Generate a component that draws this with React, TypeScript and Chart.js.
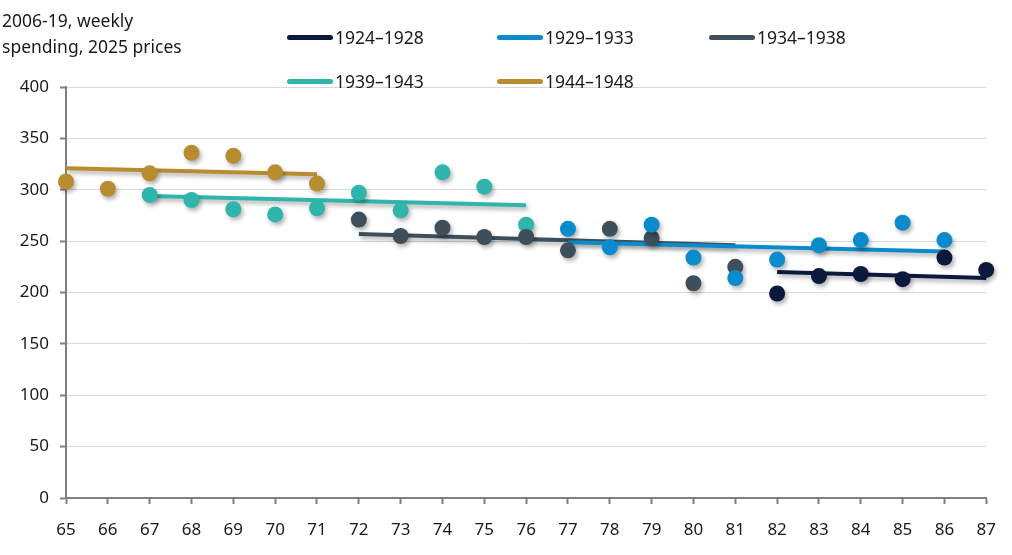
import { useEffect, useRef } from "react";
import { Chart, registerables, Plugin } from "chart.js";

Chart.register(...registerables);

const FONT = "'Noto Sans', 'Open Sans', sans-serif";

const cohorts = ["1924–1928", "1929–1933", "1934–1938", "1939–1943", "1944–1948"];
const colors = ["#0b1a3c", "#0a8bcb", "#3e4f5b", "#2fb5ab", "#b78d2f"];

// ages and weekly spending per cohort
const ages1924 = [82, 83, 84, 85, 86, 87];
const spend1924 = [199, 216, 218, 213, 234, 222];
const ages1929 = [77, 78, 79, 80, 81, 82, 83, 84, 85, 86];
const spend1929 = [262, 244, 266, 234, 214, 232, 246, 251, 268, 251];
const ages1934 = [72, 73, 74, 75, 76, 77, 78, 79, 80, 81];
const spend1934 = [271, 255, 263, 254, 254, 241, 262, 253, 209, 225];
const ages1939 = [67, 68, 69, 70, 71, 72, 73, 74, 75, 76];
const spend1939 = [295, 290, 281, 276, 282, 297, 280, 317, 303, 266];
const ages1944 = [65, 66, 67, 68, 69, 70, 71];
const spend1944 = [308, 301, 316, 336, 333, 317, 306];

// trend line end points [startAge, startValue, endAge, endValue]
const trend1924 = [82, 220, 87, 214];
const trend1929 = [77, 249, 86, 240];
const trend1934 = [72, 257, 81, 246];
const trend1939 = [67, 294, 76, 285];
const trend1944 = [65, 321, 71, 315];

const xTicks = [65, 66, 67, 68, 69, 70, 71, 72, 73, 74, 75, 76, 77, 78, 79, 80, 81, 82, 83, 84, 85, 86, 87];

const allAges = [ages1924, ages1929, ages1934, ages1939, ages1944];
const allSpend = [spend1924, spend1929, spend1934, spend1939, spend1944];
const allTrends = [trend1924, trend1929, trend1934, trend1939, trend1944];

const shadowPlugin: Plugin = {
  id: "shadow",
  beforeDatasetDraw(chart) {
    const ctx = chart.ctx;
    ctx.save();
    ctx.shadowColor = "rgba(0,0,0,0.3)";
    ctx.shadowBlur = 4;
    ctx.shadowOffsetX = 2;
    ctx.shadowOffsetY = 3;
  },
  afterDatasetDraw(chart) {
    chart.ctx.restore();
  },
};

export default function App() {
  const chartRef = useRef<HTMLCanvasElement>(null);
  const chartInstance = useRef<Chart | null>(null);

  useEffect(() => {
    if (!chartRef.current) return;
    if (chartInstance.current) chartInstance.current.destroy();
    const ctx = chartRef.current.getContext("2d");
    if (!ctx) return;

    const lineSets = allTrends.map((t, i) => ({
      type: "line" as const,
      label: cohorts[i] + " trend",
      data: [
        { x: t[0], y: t[1] },
        { x: t[2], y: t[3] },
      ],
      borderColor: colors[i],
      backgroundColor: colors[i],
      borderWidth: 4,
      pointRadius: 0,
      fill: false,
      clip: false,
    }));
    const pointSets = allAges.map((ages, i) => ({
      type: "scatter" as const,
      label: cohorts[i],
      data: ages.map((a, j) => ({ x: a, y: allSpend[i][j] })),
      backgroundColor: colors[i],
      borderColor: colors[i],
      pointRadius: 8,
      borderWidth: 0,
      clip: false,
    }));

    chartInstance.current = new Chart(ctx, {
      type: "scatter",
      data: { datasets: [...pointSets, ...lineSets] as any },
      plugins: [shadowPlugin],
      options: {
        animation: false,
        responsive: true,
        maintainAspectRatio: false,
        layout: { padding: { top: 87, right: 23, left: 0, bottom: 0 } },
        plugins: {
          legend: { display: false },
          tooltip: { enabled: false },
        },
        scales: {
          x: {
            type: "linear",
            min: 65,
            max: 87,
            afterBuildTicks: (axis) => {
              axis.ticks = xTicks.map((v) => ({ value: v }));
            },
            afterFit: (axis) => {
              axis.height = 57;
            },
            grid: {
              drawOnChartArea: false,
              tickLength: 6,
              tickColor: "#7f7f7f",
              tickWidth: 2,
            },
            border: { color: "#7f7f7f", width: 2 },
            ticks: {
              color: "#1a1a1a",
              font: { family: FONT, size: 17 },
              padding: 16,
              maxRotation: 0,
              autoSkip: false,
            },
          },
          y: {
            min: 0,
            max: 400,
            afterFit: (axis) => {
              axis.width = 66;
            },
            grid: {
              color: "#d9d9d9",
              tickColor: "#7f7f7f",
              tickLength: 6,
              tickWidth: 2,
            },
            border: { color: "#7f7f7f", width: 2 },
            ticks: {
              stepSize: 50,
              color: "#1a1a1a",
              font: { family: FONT, size: 17 },
              padding: 11,
            },
          },
        },
      },
    });

    return () => {
      if (chartInstance.current) {
        chartInstance.current.destroy();
        chartInstance.current = null;
      }
    };
  }, []);

  const legendPos = [
    { left: 287, top: 37 },
    { left: 497, top: 37 },
    { left: 709, top: 37 },
    { left: 287, top: 81 },
    { left: 497, top: 81 },
  ];

  return (
    <div
      style={{
        position: "fixed",
        left: 0,
        top: 0,
        width: 1012,
        height: 555,
        background: "#fff",
        fontFamily: FONT,
      }}
    >
      <canvas ref={chartRef} />
      <div
        style={{
          position: "absolute",
          left: 2,
          top: 7,
          fontSize: 17.5,
          lineHeight: "26px",
          color: "#1a1a1a",
        }}
      >
        2006-19, weekly
        <br />
        spending, 2025 prices
      </div>
      {cohorts.map((c, i) => (
        <div
          key={c}
          style={{
            position: "absolute",
            left: legendPos[i].left,
            top: legendPos[i].top - 12,
            height: 24,
            display: "flex",
            alignItems: "center",
            fontSize: 17.5,
            color: "#1a1a1a",
          }}
        >
          <span
            style={{
              display: "inline-block",
              width: 46,
              height: 5,
              borderRadius: 3,
              background: colors[i],
              marginRight: 2,
            }}
          />
          {c}
        </div>
      ))}
    </div>
  );
}
